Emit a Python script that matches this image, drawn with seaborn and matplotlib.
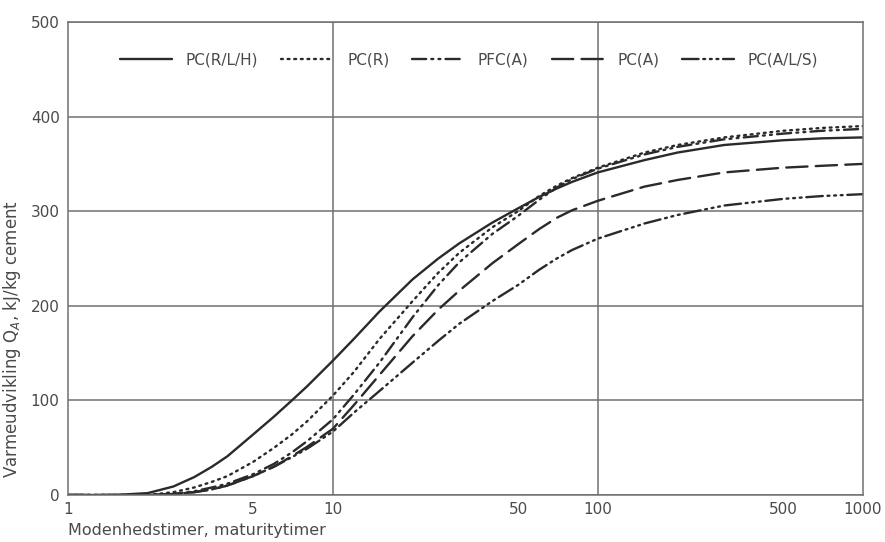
import matplotlib
matplotlib.use("Agg")
import matplotlib.pyplot as plt
import seaborn as sns
import pandas as pd
import numpy as np

# data (modenhedstimer vs. varmeudvikling, kJ/kg cement)
hours = [1, 1.5, 2, 2.5, 3, 3.5, 4, 5, 6, 7, 8, 10, 12, 15, 20, 25, 30, 40, 50,
         60, 70, 80, 100, 150, 200, 300, 500, 700, 1000]
pc_rlh = [0, 0, 2, 9, 19, 30, 41, 64, 83, 100, 115, 142, 165, 194, 228, 250, 266,
          288, 303, 315, 324, 331, 341, 354, 362, 370, 375, 377, 378]
pc_r = [0, 0, 0, 3, 8, 14, 20, 35, 50, 64, 78, 105, 130, 165, 205, 235, 256,
        283, 300, 316, 327, 335, 346, 362, 370, 378, 385, 388, 390]
pfc_a = [0, 0, 0, 1, 4, 8, 12, 22, 33, 45, 57, 80, 106, 140, 188, 222, 246,
         276, 295, 312, 325, 334, 345, 360, 368, 376, 382, 385, 387]
pc_a = [0, 0, 0, 1, 3, 6, 10, 20, 30, 41, 51, 70, 95, 127, 168, 196, 216,
        245, 265, 281, 293, 301, 311, 326, 333, 341, 346, 348, 350]
pc_als = [0, 0, 0, 1, 3, 6, 10, 20, 30, 40, 49, 67, 87, 110, 140, 163, 181,
          205, 222, 238, 250, 259, 271, 287, 296, 306, 313, 316, 318]

labels = ["PC(R/L/H)", "PC(R)", "PFC(A)", "PC(A)", "PC(A/L/S)"]
series = [pc_rlh, pc_r, pfc_a, pc_a, pc_als]
styles = ["-", (0, (0.8, 2.0)), (0, (6, 2.2, 0.8, 2.2, 0.8, 2.2)),
          (0, (9, 3.5)), (0, (7, 2, 0.8, 2, 0.8, 2, 0.8, 2))]

x_ticks = [1, 5, 10, 50, 100, 500, 1000]
y_ticks = [0, 100, 200, 300, 400, 500]

sns.set_style("white")
plt.rcParams["font.family"] = ["DejaVu Sans"]

ink = "#2a2a2a"
grey = "#707070"
text_c = "#4a4a4a"

fig = plt.figure(figsize=(8.85, 5.42), dpi=100)
ax = fig.add_axes([0.0768, 0.0867, 0.898, 0.8727])

for lab, ys, ls in zip(labels, series, styles):
    sns.lineplot(x=hours, y=ys, ax=ax, label=lab, color=ink, lw=1.7,
                 linestyle=ls, dash_capstyle="round")

ax.set_xscale("log")
ax.set_xlim(1, 1000)
ax.set_ylim(0, 500)
ax.set_xticks(x_ticks)
ax.set_xticklabels([str(t) for t in x_ticks])
ax.xaxis.set_minor_locator(matplotlib.ticker.NullLocator())
ax.set_yticks(y_ticks)

ax.yaxis.grid(True, color=grey, lw=1.1)
for xv in [10, 100]:
    ax.axvline(xv, color=grey, lw=1.1, zorder=0.5)

for sp in ax.spines.values():
    sp.set_color(grey)
    sp.set_linewidth(1.1)

ax.tick_params(axis="x", direction="in", length=4, color=grey,
               labelsize=11, labelcolor=text_c, pad=5)
ax.tick_params(axis="y", direction="out", length=4, color=grey,
               labelsize=11, labelcolor=text_c, pad=2)

ax.set_xlabel("Modenhedstimer, maturitytimer", fontsize=11.5, color=text_c)
ax.xaxis.set_label_coords(0.0, -0.06)
ax.xaxis.label.set_horizontalalignment("left")
ax.xaxis.label.set_verticalalignment("top")
ax.set_ylabel("Varmeudvikling Q$_A$, kJ/kg cement", fontsize=12, color=text_c)
ax.yaxis.set_label_coords(-0.057, 0.33)

leg = ax.legend(loc="center", bbox_to_anchor=(0.505, 0.92), ncol=5,
                frameon=False, handlelength=3.4, columnspacing=1.5,
                handletextpad=0.9, fontsize=11)
for t in leg.get_texts():
    t.set_color(text_c)

fig.savefig("out.png", dpi=100)
